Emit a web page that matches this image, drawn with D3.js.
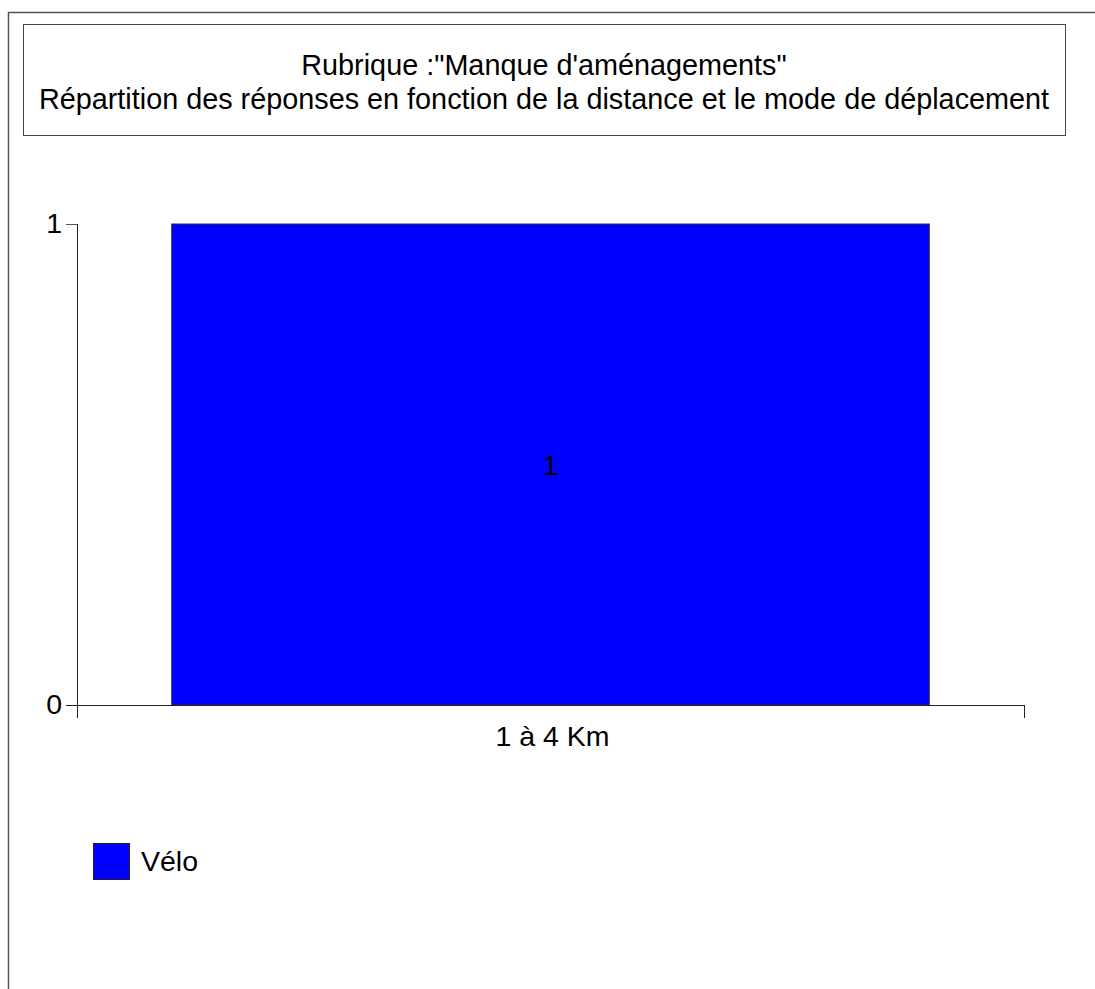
<!DOCTYPE html>
<html><head><meta charset="utf-8">
<script src="https://cdn.jsdelivr.net/npm/d3@7/dist/d3.min.js"></script>
<style>body{margin:0;background:#fff}svg{display:block}text{font-family:"Liberation Sans",Arial,sans-serif}</style>
</head><body>
<svg id="c" width="1095" height="989"></svg>
<script>
const categories = ["1 à 4 Km"];
const seriesNames = ["Vélo"];
const veloValues = [1];
const yTicks = [0, 1];
const titleLines = ["Rubrique :\"Manque d'aménagements\"", "Répartition des réponses en fonction de la distance et le mode de déplacement"];

const svg = d3.select("#c");
const fs = 28.5;
// outer frame
svg.append("path").attr("d","M8.5,989 V12.5 H1095").attr("fill","none").attr("stroke","#555").attr("stroke-width",1.5);
// title box
svg.append("rect").attr("x",23.5).attr("y",24.5).attr("width",1042).attr("height",111).attr("fill","#fff").attr("stroke","#444");
svg.selectAll("text.title").data(titleLines).enter().append("text")
  .attr("x",544).attr("y",(d,i)=>75+i*34).attr("text-anchor","middle").attr("font-size",28.8).attr("fill","#000").text(d=>d);

const x = d3.scaleBand().domain(categories).range([77,1024]).paddingInner(0.2).paddingOuter(0.1);
const y = d3.scaleLinear().domain([0,1]).range([705,224]);

// bars
svg.selectAll("rect.bar").data(veloValues).enter().append("rect")
  .attr("x",(d,i)=>x(categories[i])).attr("width",x.bandwidth())
  .attr("y",d=>y(d)).attr("height",d=>y(0)-y(d))
  .attr("fill","#0000ff").attr("stroke","#333").attr("stroke-width",1);
svg.selectAll("text.val").data(veloValues).enter().append("text")
  .attr("x",(d,i)=>x(categories[i])+x.bandwidth()/2).attr("y",d=>(y(d)+y(0))/2+10)
  .attr("text-anchor","middle").attr("font-size",fs).text(d=>d);

// y axis
const yAxis = d3.axisLeft(y).tickValues(yTicks).tickSize(11).tickPadding(4).tickFormat(d3.format("d"));
const gy = svg.append("g").attr("transform","translate(77,0)").call(yAxis);
gy.select(".domain").remove();
gy.selectAll(".tick line").attr("stroke","#555");
gy.selectAll(".tick text").attr("font-size",fs).attr("fill","#000").attr("font-family","Liberation Sans, Arial, sans-serif").attr("dy","0.3em");
svg.append("line").attr("x1",77.5).attr("x2",77.5).attr("y1",224).attr("y2",718).attr("stroke","#222");

// x axis
svg.append("line").attr("x1",66).attr("x2",1024).attr("y1",705.5).attr("y2",705.5).attr("stroke","#222");
const bounds = [77, 1024];
svg.selectAll("line.xt").data(bounds).enter().append("line")
  .attr("x1",d=>d+0.5).attr("x2",d=>d+0.5).attr("y1",705).attr("y2",718).attr("stroke","#222");
svg.selectAll("text.cat").data(categories).enter().append("text")
  .attr("x",d=>x(d)+x.bandwidth()/2+2).attr("y",746).attr("text-anchor","middle").attr("font-size",fs).text(d=>d);

// legend
const lg = svg.selectAll("g.lg").data(seriesNames).enter().append("g").attr("transform","translate(93,843)");
lg.append("rect").attr("x",0.5).attr("y",0.5).attr("width",36).attr("height",36).attr("fill","#0000ff").attr("stroke","#222");
lg.append("text").attr("x",48).attr("y",28).attr("font-size",fs).text(d=>d);
</script>
</body></html>
